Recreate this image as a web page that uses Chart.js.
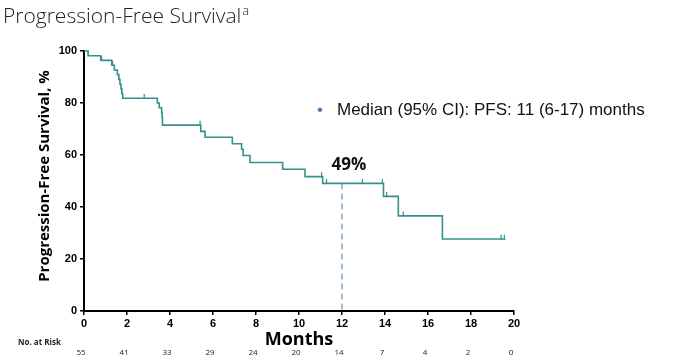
<!DOCTYPE html>
<html>
<head>
<meta charset="utf-8">
<script src="https://cdn.jsdelivr.net/npm/chart.js@4.4.1/dist/chart.umd.min.js"></script>
<style>
html,body{margin:0;padding:0;background:#fff}
#wrap{width:680px;height:360px;position:relative}
</style>
</head>
<body>
<div id="wrap"><canvas id="pfs"></canvas></div>
<script>
// Kaplan-Meier steps
const months=[0,0.19,0.78,1.29,1.41,1.55,1.62,1.67,1.72,1.76,1.8,3.41,3.5,3.61,3.63,3.65,5.43,5.63,6.9,7.33,7.4,7.72,9.24,10.28,11.1,13.93,14.62,16.67,19.6];
const pfs=[100,98.2,96.4,94.5,92.7,90.9,89.1,87.3,85.5,83.6,81.8,80.0,78.2,76.3,74.4,71.5,69.1,66.8,64.3,62.2,59.8,57.1,54.5,51.7,49.1,44.1,36.6,27.7,27.7];
const censorMonths=[0.82,1.33,2.8,5.4,11.05,11.28,12.95,13.88,14.08,14.85,19.4,19.55];
const censorPfs=[96.4,94.5,81.8,71.5,51.7,49.1,49.1,49.1,44.1,36.6,27.7,27.7];
const medianX=[12,12];
const medianY=[49,0];
const xTicks=[0,2,4,6,8,10,12,14,16,18,20];
const atRisk=[55,41,33,29,24,20,14,7,4,2,0];

const teal='#35918a';

const overlay={
  id:'overlay',
  afterDraw(c){
    const ctx=c.ctx, x=c.scales.x, y=c.scales.y;
    ctx.save();
    // page title
    ctx.fillStyle='#222';
    ctx.textAlign='left';
    ctx.textBaseline='alphabetic';
    ctx.font='300 21px "Open Sans"';
    const t='Progression-Free Survival';
    ctx.fillText(t,3,23);
    const w=ctx.measureText(t).width;
    ctx.font='300 13px "Open Sans"';
    ctx.fillText('a',3+w+1,15);

    // y axis title
    ctx.save();
    ctx.translate(45,176);
    ctx.rotate(-Math.PI/2);
    ctx.fillStyle='#000';
    ctx.font='bold 15px "Open Sans"';
    ctx.textAlign='center';
    ctx.textBaseline='middle';
    ctx.fillText('Progression-Free Survival, %',0,0);
    ctx.restore();

    // x axis title
    ctx.fillStyle='#000';
    ctx.font='bold 18px "Open Sans"';
    ctx.textAlign='center';
    ctx.textBaseline='middle';
    ctx.fillText('Months',(x.left+x.right)/2,340);

    // number at risk
    ctx.font='bold 8px "Open Sans"';
    ctx.textAlign='left';
    ctx.fillStyle='#222';
    ctx.fillText('No. at Risk',18,343);
    ctx.font='8px "Open Sans"';
    ctx.textAlign='center';
    xTicks.forEach((m,i)=>{
      ctx.fillText(String(atRisk[i]),x.getPixelForValue(m)-3,353);
    });

    // median label
    ctx.fillStyle='#111';
    ctx.font='bold 17px "Open Sans"';
    ctx.textAlign='center';
    ctx.fillText('49%',x.getPixelForValue(medianX[0])+7,y.getPixelForValue(medianY[0])-18);

    // side note
    ctx.fillStyle='#4a7fae';
    ctx.font='17px "Liberation Sans"';
    ctx.textAlign='left';
    ctx.fillText('\u2022',317,110);
    ctx.fillStyle='#111';
    ctx.fillText('Median (95% CI): PFS: 11 (6-17) months',337,110);
    ctx.restore();
  }
};

new Chart(document.getElementById('pfs'),{
  type:'line',
  data:{
    datasets:[
      {
        data:months.map((m,i)=>({x:m,y:pfs[i]})),
        borderColor:teal,
        borderWidth:1.6,
        stepped:'before',
        pointRadius:0,
        fill:false,
        clip:4
      },
      {
        // censor marks sit just on top of the curve
        data:censorMonths.map((m,i)=>({x:m,y:censorPfs[i]+0.7})),
        showLine:false,
        pointStyle:'line',
        rotation:90,
        pointRadius:2.5,
        borderColor:teal,
        borderWidth:1.2,
        clip:4
      },
      {
        data:medianX.map((m,i)=>({x:m,y:medianY[i]})),
        borderColor:'#7fa8c9',
        borderWidth:1.5,
        borderDash:[6,4],
        pointRadius:0,
        fill:false
      }
    ]
  },
  options:{
    responsive:true,
    maintainAspectRatio:false,
    animation:false,
    layout:{padding:{top:51,right:166,left:0,bottom:0}},
    plugins:{legend:{display:false},tooltip:{enabled:false}},
    scales:{
      x:{
        type:'linear',
        min:0,max:20,
        afterFit:s=>{s.height=49;},
        afterBuildTicks:s=>{s.ticks=xTicks.map(v=>({value:v}));},
        border:{display:true,color:'#000',width:2},
        grid:{drawOnChartArea:false,drawTicks:true,tickLength:4,color:'#000',lineWidth:1.5},
        ticks:{color:'#000',font:{family:'"Liberation Sans"',weight:'bold',size:11},padding:2,maxRotation:0}
      },
      y:{
        min:0,max:100,
        afterFit:s=>{s.width=84;},
        border:{display:true,color:'#000',width:2},
        grid:{drawOnChartArea:false,drawTicks:true,tickLength:4,color:'#000',lineWidth:1.5},
        ticks:{stepSize:20,color:'#000',font:{family:'"Liberation Sans"',weight:'bold',size:11},padding:3}
      }
    }
  },
  plugins:[overlay]
});
</script>
</body>
</html>
